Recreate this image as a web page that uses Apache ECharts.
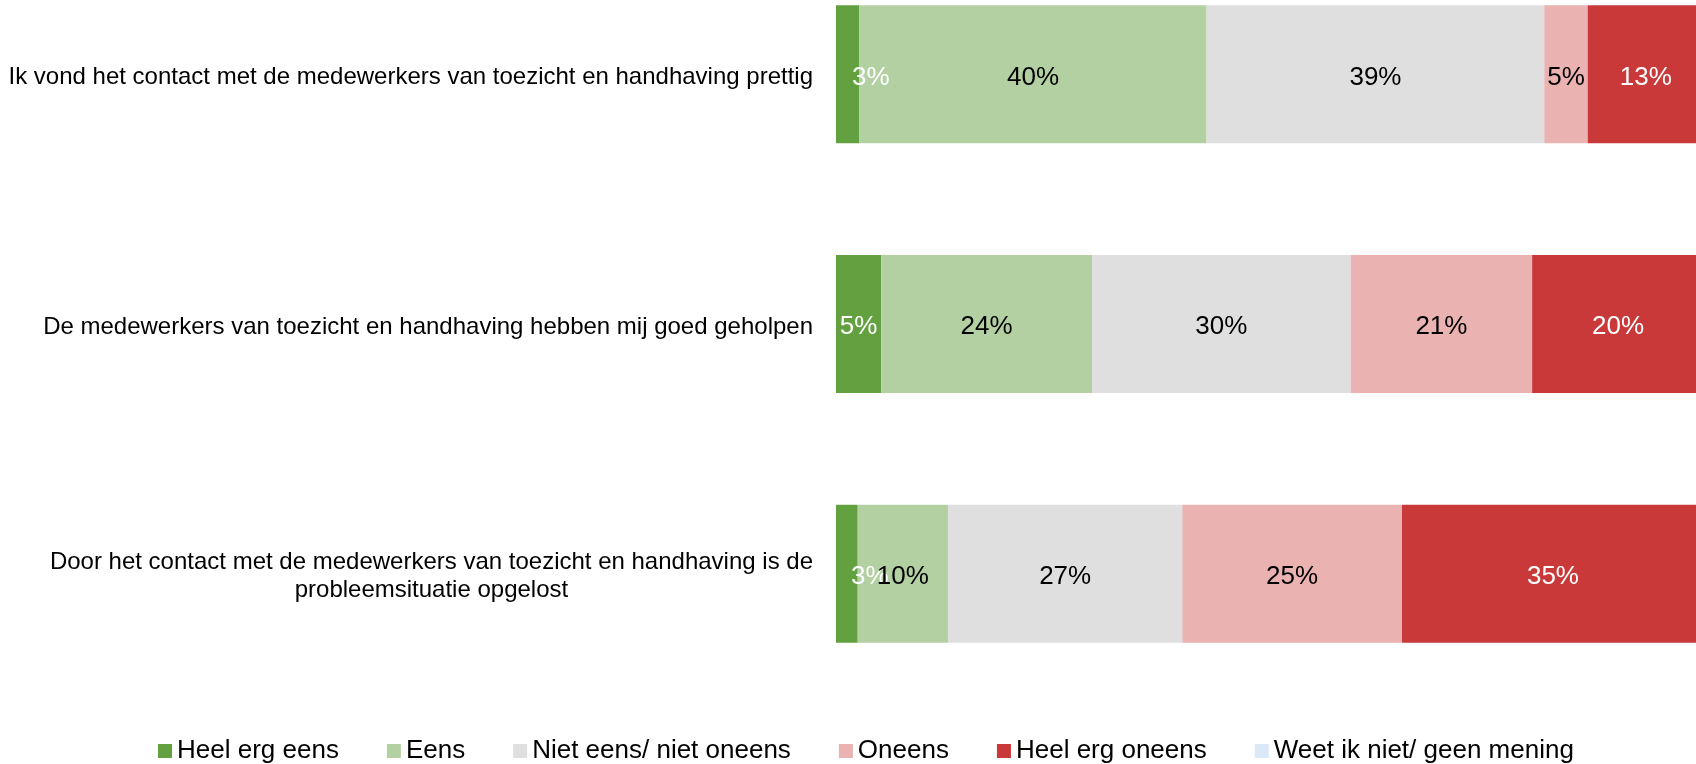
<!DOCTYPE html>
<html>
<head>
<meta charset="utf-8">
<script src="https://cdn.jsdelivr.net/npm/echarts@6/dist/echarts.min.js"></script>
<style>
  html, body { margin: 0; padding: 0; background: #fff; }
  #main { width: 1696px; height: 764px; }
</style>
</head>
<body>
<div id="main"></div>
<script>
// stellingen (van boven naar beneden)
const categories = [
  'Ik vond het contact met de medewerkers van toezicht en handhaving prettig',
  'De medewerkers van toezicht en handhaving hebben mij goed geholpen',
  'Door het contact met de medewerkers van toezicht en handhaving is de\nprobleemsituatie opgelost'
];

const seriesNames = ['Heel erg eens', 'Eens', 'Niet eens/ niet oneens', 'Oneens', 'Heel erg oneens', 'Weet ik niet/ geen mening'];
const colors = ['#63A040', '#B3D0A3', '#DEDFDE', '#EAB2B1', '#C9393A', '#DAE9F8'];
const labelColors = ['#fff', '#000', '#000', '#000', '#fff', '#000'];

// percentages per antwoord, volgorde = categories
const heelErgEens = [2.7, 5.2, 2.5];
const eens = [40.0, 24.3, 10.4];
const neutraal = [38.9, 29.8, 27.0];
const oneens = [5.0, 20.9, 25.3];
const heelErgOneens = [13.4, 19.8, 34.8];
const weetNiet = [0, 0, 0];

const values = [heelErgEens, eens, neutraal, oneens, heelErgOneens, weetNiet];

const font = "'Liberation Sans', Arial, sans-serif";

var myChart = echarts.init(document.getElementById('main'));

// smalle segmenten: label iets naar rechts, zoals in het origineel
function toData(arr) {
  return arr.map(v => v > 0 && v < 4 ? { value: v, label: { offset: [23, 3] } } : v);
}

var option = {
  animation: false,
  textStyle: { fontFamily: font },
  legend: {
    data: seriesNames,
    left: 153,
    top: 733,
    itemGap: 48,
    itemWidth: 14,
    itemHeight: 14,
    icon: 'rect',
    textStyle: { fontSize: 26, color: '#000', fontFamily: font }
  },
  grid: {
    left: 836,
    width: 868,
    top: -50.5,
    height: 749,
    outerBoundsMode: 'none'
  },
  xAxis: {
    type: 'value',
    min: 0,
    max: 100,
    show: false
  },
  yAxis: {
    type: 'category',
    data: categories,
    inverse: true,
    axisLine: { show: false },
    axisTick: { show: false },
    axisLabel: {
      margin: 23,
      padding: [6, 0, 0, 0],
      color: '#000',
      fontSize: 24,
      fontFamily: font,
      formatter: function (v) {
        return v.split('\n').map(l => '{c|' + l + '}').join('\n');
      },
      rich: {
        c: { align: 'center', fontSize: 24, fontFamily: font, color: '#000', lineHeight: 28 }
      }
    }
  },
  series: seriesNames.map((name, i) => ({
    name: name,
    type: 'bar',
    stack: 'totaal',
    barWidth: 138,
    data: toData(values[i]),
    itemStyle: { color: colors[i] },
    label: {
      show: true,
      position: 'inside',
      offset: [0, 3],
      color: labelColors[i],
      fontSize: 26,
      fontFamily: font,
      formatter: p => p.value > 0 ? Math.round(p.value) + '%' : ''
    }
  }))
};

myChart.setOption(option);
</script>
</body>
</html>
